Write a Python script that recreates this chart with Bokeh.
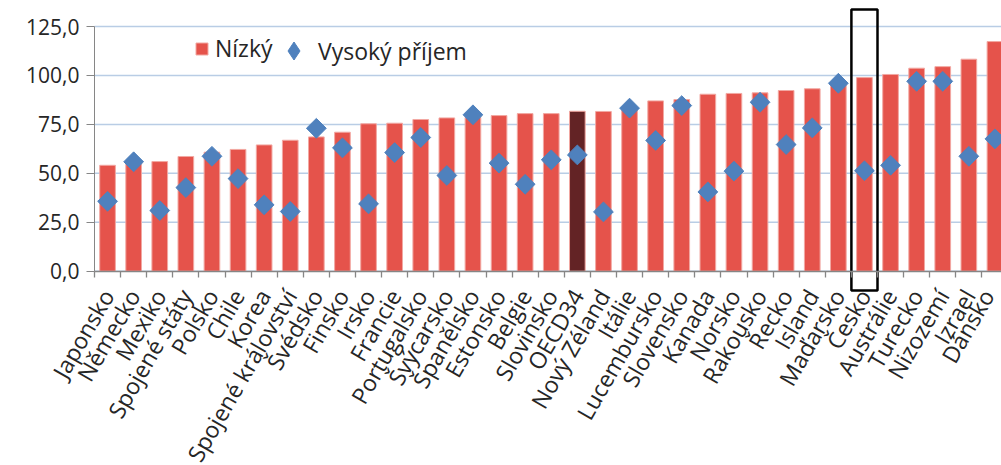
import math
from bokeh.plotting import figure
from bokeh.models import (ColumnDataSource, FixedTicker, Legend, LegendItem)
from bokeh.embed import file_html
from bokeh.resources import INLINE

countries = ["Japonsko", "Německo", "Mexiko", "Spojené státy", "Polsko", "Chile",
             "Korea", "Spojené království", "Švédsko", "Finsko", "Irsko", "Francie",
             "Portugalsko", "Švýcarsko", "Španělsko", "Estonsko", "Belgie",
             "Slovinsko", "OECD34", "Nový Zéland", "Itálie", "Lucembursko",
             "Slovensko", "Kanada", "Norsko", "Rakousko", "Řecko", "Island",
             "Maďarsko", "Česko", "Austrálie", "Turecko", "Nizozemí", "Izrael",
             "Dánsko"]
nizky = [54.1, 55.5, 56.0, 58.6, 60.8, 62.2, 64.5, 66.9, 68.6, 71.0, 75.3, 75.6,
         77.5, 78.3, 78.6, 79.5, 80.5, 80.5, 81.7, 81.6, 82.5, 87.0, 87.7, 90.4,
         90.8, 91.1, 92.3, 93.2, 96.5, 98.9, 100.5, 103.7, 104.5, 108.3, 117.3]
vysoky = [35.7, 55.9, 31.0, 42.7, 58.7, 47.3, 33.9, 30.5, 73.0, 63.0, 34.4, 60.6,
          68.3, 48.9, 79.9, 55.2, 44.4, 56.9, 59.4, 30.3, 83.3, 66.8, 84.6, 40.5,
          51.1, 86.3, 64.7, 73.2, 96.0, 51.3, 54.1, 97.0, 97.0, 58.7, 67.6]
y_ticks = [0, 25, 50, 75, 100, 125]
y_tick_labels = ["0,0", "25,0", "50,0", "75,0", "100,0", "125,0"]
highlight = "OECD34"
boxed = "Česko"

RED = "#E5534B"
DARK = "#632325"
BLUE = "#4F81BD"
AXIS = "#868686"
GRID = "#B9CDE5"
FONT = "Open Sans"

n = len(countries)
idx = list(range(n))
colors = [DARK if c == highlight else RED for c in countries]
src = ColumnDataSource(dict(x=idx, nizky=nizky, vysoky=vysoky, color=colors))

# The plot frame covers the whole canvas; axes are placed at fixed locations
# inside it so that rotated labels and the highlight box are not clipped.
PX = 1.9576          # px per y unit (value 0 at y=270.7)
PXX = 26.1           # px per category (first category edge at x=94)
y_lo, y_hi = -(465 - 270.7) / PX, (270.7 - 7) / PX
x_lo, x_hi = -0.5 - 94 / PXX, -0.5 + (1001 - 94) / PXX

p = figure(width=1001, height=465, output_backend="svg", toolbar_location=None,
           x_range=(x_lo, x_hi), y_range=(y_lo, y_hi),
           min_border_left=0, min_border_right=0, min_border_top=7,
           min_border_bottom=0)
p.outline_line_color = None
p.xgrid.grid_line_color = None
p.ygrid.grid_line_color = None

# horizontal gridlines, only across the plotting area
p.segment(x0=[-0.5] * len(y_ticks), x1=[x_hi] * len(y_ticks), y0=y_ticks,
          y1=y_ticks, line_color=GRID, line_width=1.5)

# y axis at the left edge of the first category
p.yaxis.fixed_location = -0.5
p.yaxis.ticker = FixedTicker(ticks=y_ticks)
p.yaxis.bounds = (y_ticks[0], y_ticks[-1])
p.yaxis.major_label_overrides = {t: l for t, l in zip(y_ticks, y_tick_labels)}
p.yaxis.major_label_text_font = FONT
p.yaxis.major_label_text_font_size = "21px"
p.yaxis.major_label_text_color = "#262626"
p.yaxis.axis_line_color = AXIS
p.yaxis.major_tick_line_color = AXIS
p.yaxis.major_tick_in = 0
p.yaxis.major_tick_out = 8
p.yaxis.minor_tick_line_color = None
p.yaxis.major_label_standoff = 7

bars = p.vbar(x="x", top="nizky", width=0.6, source=src, fill_color="color",
              line_color="#F2A8A2", line_width=1)
pts = p.scatter(x="x", y="vysoky", source=src, marker="square", angle=math.pi / 4,
                size=14, fill_color=BLUE, line_color=BLUE)

# category axis at zero; ticks between categories
p.xaxis.fixed_location = 0
p.xaxis.bounds = (-0.5, x_hi)
p.xaxis.ticker = FixedTicker(ticks=idx,
                             minor_ticks=[i - 0.5 for i in idx] + [n - 0.5])
p.xaxis.major_label_overrides = {i: c for i, c in zip(idx, countries)}
p.xaxis.major_label_orientation = math.radians(60)
p.xaxis.major_label_text_font = FONT
p.xaxis.major_label_text_font_size = "23px"
p.xaxis.major_label_text_color = "#262626"
p.xaxis.axis_line_color = AXIS
p.xaxis.axis_line_width = 1.3
p.xaxis.major_tick_line_color = None
p.xaxis.major_tick_in = 0
p.xaxis.major_tick_out = 0
p.xaxis.minor_tick_line_color = AXIS
p.xaxis.minor_tick_line_width = 1.3
p.xaxis.minor_tick_in = 0
p.xaxis.minor_tick_out = 6
p.xaxis.major_label_standoff = 14

# highlight box around Česko
ci = countries.index(boxed)
p.quad(left=[ci - 0.5], right=[ci + 0.5], top=[(270.7 - 9) / PX],
       bottom=[-(290 - 270.7) / PX], fill_alpha=0, line_color="black",
       line_width=2.5)

# legend
dummy = p.scatter(x=[float("nan")], y=[float("nan")], marker="diamond",
                  fill_color=BLUE, line_color=BLUE)
leg1 = Legend(items=[LegendItem(label="Nízký", renderers=[bars], index=0)],
              location=(194, 401), orientation="horizontal",
              glyph_width=15, glyph_height=15, label_standoff=6,
              padding=0, margin=0, spacing=0,
              background_fill_alpha=0, border_line_alpha=0,
              label_text_font=FONT, label_text_font_size="23px",
              label_text_color="#262626")
leg2 = Legend(items=[LegendItem(label="Vysoký příjem", renderers=[dummy])],
              location=(271, 392), orientation="horizontal",
              glyph_width=45, glyph_height=45, label_standoff=2,
              padding=0, margin=0, spacing=0,
              background_fill_alpha=0, border_line_alpha=0,
              label_text_font=FONT, label_text_font_size="23px",
              label_text_color="#262626")
p.add_layout(leg1)
p.add_layout(leg2)

open("out.html", "w").write(file_html(p, INLINE))
